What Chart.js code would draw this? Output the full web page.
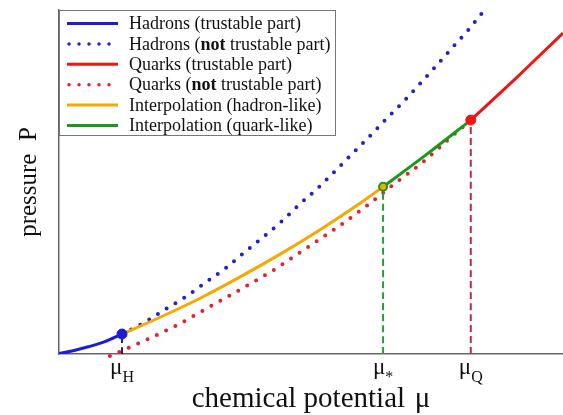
<!DOCTYPE html>
<html>
<head>
<meta charset="utf-8">
<script src="https://cdn.jsdelivr.net/npm/chart.js@4.4.1/dist/chart.umd.min.js"></script>
<style>
  body { margin: 0; background: #fff; }
</style>
</head>
<body>
<canvas id="grafico" width="563" height="415"></canvas>
<script>
// valores (mu y P en unidades arbitrarias 0..10)
const muTicks = [1.25, 6.43, 8.17];
const muSubs  = ["H", "*", "Q"];

const hadMu = [0, 0.32, 0.58, 0.91, 1.25];
const hadP  = [0.01, 0.11, 0.21, 0.36, 0.58];

const hadExtMu = [1.25, 1.71, 2.12, 2.54, 2.92, 3.31, 3.69, 4.05, 4.43, 4.78, 5.14, 5.48, 5.81, 6.15, 6.49, 6.83, 7.14, 7.48, 7.80, 8.12, 8.41, 8.75];
const hadExtP  = [0.58, 0.93, 1.31, 1.69, 2.09, 2.50, 2.97, 3.40, 3.87, 4.36, 4.83, 5.32, 5.81, 6.31, 6.83, 7.33, 7.82, 8.37, 8.90, 9.42, 9.94, 10.49];

const qrkMu = [8.17, 9.09, 10];
const qrkP  = [6.80, 8.05, 9.33];

const qrkExtMu = [1.01, 1.73, 2.38, 3.02, 3.65, 4.29, 4.88, 5.50, 6.07, 6.65, 7.22, 7.76, 8.17];
const qrkExtP  = [-0.06, 0.41, 0.87, 1.40, 1.92, 2.47, 3.05, 3.66, 4.27, 4.94, 5.58, 6.28, 6.80];

const intHadMu = [1.25, 2.04, 2.84, 3.63, 4.43, 5.22, 6.01, 6.43];
const intHadP  = [0.58, 1.09, 1.65, 2.27, 2.94, 3.65, 4.42, 4.86];

const intQrkMu = [6.43, 7.30, 8.17];
const intQrkP  = [4.86, 5.81, 6.80];

const etiquetas = [
  "Hadrons (trustable part)",
  "Hadrons (**not** trustable part)",
  "Quarks (trustable part)",
  "Quarks (**not** trustable part)",
  "Interpolation (hadron-like)",
  "Interpolation (quark-like)"
];

const SERIF = "'Liberation Serif', 'Times New Roman', serif";
const pts = (xs, ys) => xs.map((x, i) => ({ x, y: ys[i] }));

const AZUL = "#1c1cd8", ROJO = "#f01414", NARANJA = "#f6a800", VERDE = "#179a1c";
const dotted = { borderDash: [0, 10.3], borderCapStyle: "round", borderWidth: 4 };

const datasets = [
  { label: etiquetas[0], data: pts(hadMu, hadP), borderColor: AZUL, borderWidth: 3, order: 3 },
  { label: etiquetas[1], data: pts(hadExtMu, hadExtP), borderColor: "#2222cc", ...dotted, order: 6 },
  { label: etiquetas[2], data: pts(qrkMu, qrkP), borderColor: ROJO, borderWidth: 3, order: 3 },
  { label: etiquetas[3], data: pts(qrkExtMu, qrkExtP), borderColor: "#e8202a", ...dotted, order: 6,
    clip: { left: 6, top: 6, right: 6, bottom: 6 } },
  { label: etiquetas[4], data: pts(intHadMu, intHadP), borderColor: NARANJA, borderWidth: 3, order: 3 },
  { label: etiquetas[5], data: pts(intQrkMu, intQrkP), borderColor: VERDE, borderWidth: 3, order: 3 },
  // lineas verticales punteadas
  { data: pts([muTicks[0], muTicks[0]], [0, hadP[hadP.length - 1]]), borderColor: "#22226e", borderWidth: 2, borderDash: [7, 4], order: 5 },
  { data: pts([muTicks[1], muTicks[1]], [0, intHadP[intHadP.length - 1]]), borderColor: "#2e9a3a", borderWidth: 2, borderDash: [7, 4], order: 5 },
  { data: pts([muTicks[2], muTicks[2]], [0, qrkP[0]]), borderColor: "#c4283e", borderWidth: 2, borderDash: [7, 4], order: 5 },
  // puntos de union
  { data: pts([muTicks[0]], [hadP[hadP.length - 1]]), showLine: false, pointRadius: 5, backgroundColor: AZUL, borderColor: AZUL, order: 1 },
  { data: pts([muTicks[1]], [intHadP[intHadP.length - 1]]), showLine: false, pointRadius: 4, pointBorderWidth: 2, backgroundColor: NARANJA, borderColor: VERDE, order: 1 },
  { data: pts([muTicks[2]], [qrkP[0]]), showLine: false, pointRadius: 5, backgroundColor: ROJO, borderColor: ROJO, order: 1 }
];
datasets.forEach(d => {
  if (d.pointRadius === undefined) d.pointRadius = 0;
  d.cubicInterpolationMode = "monotone";
  d.fill = false;
});

// etiquetas mu con subindice
const ticksMu = {
  id: "ticksMu",
  afterDraw(chart) {
    const { ctx, scales: { x } } = chart;
    ctx.save();
    ctx.fillStyle = "#111";
    ctx.textBaseline = "alphabetic";
    muTicks.forEach((v, i) => {
      const px = x.getPixelForValue(v);
      ctx.font = `23px ${SERIF}`;
      const wMu = ctx.measureText("μ").width;
      ctx.font = `16px ${SERIF}`;
      const wSub = ctx.measureText(muSubs[i]).width;
      const x0 = px - (wMu + wSub) / 2;
      ctx.font = `23px ${SERIF}`;
      ctx.fillText("μ", x0, 374);
      ctx.font = `16px ${SERIF}`;
      ctx.fillText(muSubs[i], x0 + wMu, 382);
    });
    ctx.restore();
  }
};

// leyenda propia (permite "not" en negrita)
const leyenda = {
  id: "leyenda",
  afterDraw(chart) {
    const { ctx, chartArea } = chart;
    const x0 = chartArea.left, y0 = chartArea.top;
    const items = chart.data.datasets.filter(d => d.label);
    ctx.save();
    ctx.fillStyle = "#fff";
    ctx.strokeStyle = "#777";
    ctx.lineWidth = 1;
    ctx.fillRect(x0, y0, 277, 126);
    ctx.strokeRect(x0 + 0.5, y0 + 0.5, 276, 125);
    items.forEach((d, i) => {
      const yc = y0 + 13.5 + i * 20.4;
      ctx.beginPath();
      ctx.strokeStyle = d.borderColor;
      if (d.borderDash && d.borderDash[0] === 0) {
        ctx.setLineDash([0, 10]);
        ctx.lineCap = "round";
        ctx.lineWidth = 3.5;
        ctx.moveTo(x0 + 10, yc);
        ctx.lineTo(x0 + 60, yc);
      } else {
        ctx.setLineDash([]);
        ctx.lineCap = "butt";
        ctx.lineWidth = 3;
        ctx.moveTo(x0 + 8, yc);
        ctx.lineTo(x0 + 59, yc);
      }
      ctx.stroke();
      ctx.fillStyle = "#111";
      ctx.textBaseline = "middle";
      let tx = x0 + 70;
      d.label.split(/\*\*(.+?)\*\*/).forEach((parte, k) => {
        ctx.font = `${k % 2 ? "bold " : ""}18px ${SERIF}`;
        ctx.fillText(parte, tx, yc + 1);
        tx += ctx.measureText(parte).width;
      });
    });
    ctx.restore();
  }
};

new Chart(document.getElementById("grafico"), {
  type: "line",
  data: { datasets },
  plugins: [ticksMu, leyenda],
  options: {
    responsive: false,
    animation: false,
    layout: { autoPadding: false, padding: { top: 10, right: 0, bottom: 0, left: 0 } },
    plugins: { legend: { display: false }, tooltip: { enabled: false } },
    scales: {
      x: {
        type: "linear", min: 0, max: 10,
        grid: { display: false },
        border: { color: "#666", width: 1.5 },
        ticks: { display: false },
        title: { display: true, text: "chemical potential \u200Aμ", color: "#111",
                 font: { family: SERIF, size: 29 }, padding: { top: 0, bottom: -1.5 } },
        afterFit: s => { s.height = 61; }
      },
      y: {
        type: "linear", min: 0, max: 10,
        grid: { display: false },
        border: { color: "#666", width: 1.5 },
        ticks: { display: false },
        title: { display: true, text: "pressure  P", color: "#111",
                 font: { family: SERIF, size: 25 }, padding: { top: 14, bottom: 0 } },
        afterFit: s => { s.width = 59; }
      }
    }
  }
});
</script>
</body>
</html>
